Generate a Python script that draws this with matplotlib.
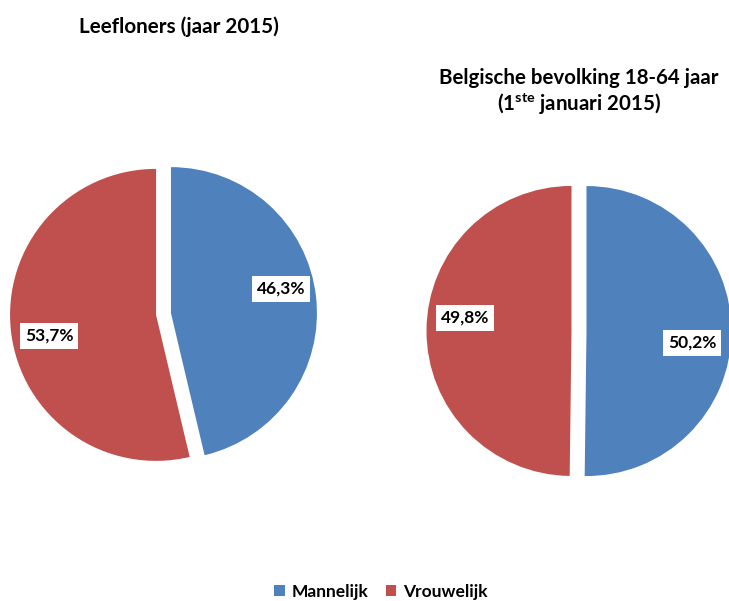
import matplotlib.pyplot as plt

plt.rcParams['font.family'] = ['Lato', 'DejaVu Sans']
plt.rcParams['mathtext.fontset'] = 'custom'
plt.rcParams['mathtext.bf'] = 'Lato:bold'
plt.rcParams['mathtext.rm'] = 'Lato'

categories = ['Mannelijk', 'Vrouwelijk']
leefloners = [46.3, 53.7]
bevolking = [50.2, 49.8]
colors = ['#4F81BD', '#C0504D']

W, H = 729, 601
fig = plt.figure(figsize=(W / 100, H / 100), dpi=100)
ax = fig.add_axes([0, 0, 1, 1])


def flip(y):
    # picture rows run downwards, data y runs upwards
    return H - y


def fmt(p):
    return f'{p:.1f}%'.replace('.', ',')


def draw_pie(values, center, radius, label_pos):
    # explode is in data units here (axes is 1 unit = 1 pixel)
    wedges, texts, autotexts = ax.pie(
        values, colors=colors, startangle=90, counterclock=False,
        explode=[7.5, 7.5], center=(center[0], flip(center[1])),
        radius=radius, autopct=fmt, frame=True,
        textprops=dict(fontsize=12.5, fontweight='bold', color='black'),
        wedgeprops=dict(linewidth=0))
    for t, (x, y) in zip(autotexts, label_pos):
        t.set_position((x, flip(y)))
        t.set_bbox(dict(facecolor='white', edgecolor='none', pad=3.5))
    return wedges


wedges = draw_pie(leefloners, (163.5, 314), 146,
                  [(281, 289), (49, 336)])
draw_pie(bevolking, (579, 331), 145,
         [(692, 343), (465, 318)])

ax.set_xlim(0, W)
ax.set_ylim(0, H)
ax.set_aspect('auto')
ax.axis('off')

fig.text(179 / W, 1 - 27 / H, 'Leefloners (jaar 2015)', ha='center',
         va='center', fontsize=14.9, fontweight='bold')
fig.text(579 / W, 1 - 78 / H, 'Belgische bevolking 18-64 jaar',
         ha='center', va='center', fontsize=14.8, fontweight='bold')
fig.text(579 / W, 1 - 104 / H, r'(1$^{\mathbf{ste}}$ januari 2015)',
         ha='center', va='center', fontsize=14.8, fontweight='bold')

ax.legend(wedges, categories, loc='center', bbox_to_anchor=(381 / W, 9 / H),
          ncol=2, frameon=False, handlelength=0.6, handleheight=0.6,
          handletextpad=0.4, columnspacing=1.0,
          prop=dict(size=12.5, weight='bold'))

fig.savefig('out.png', dpi=100)
